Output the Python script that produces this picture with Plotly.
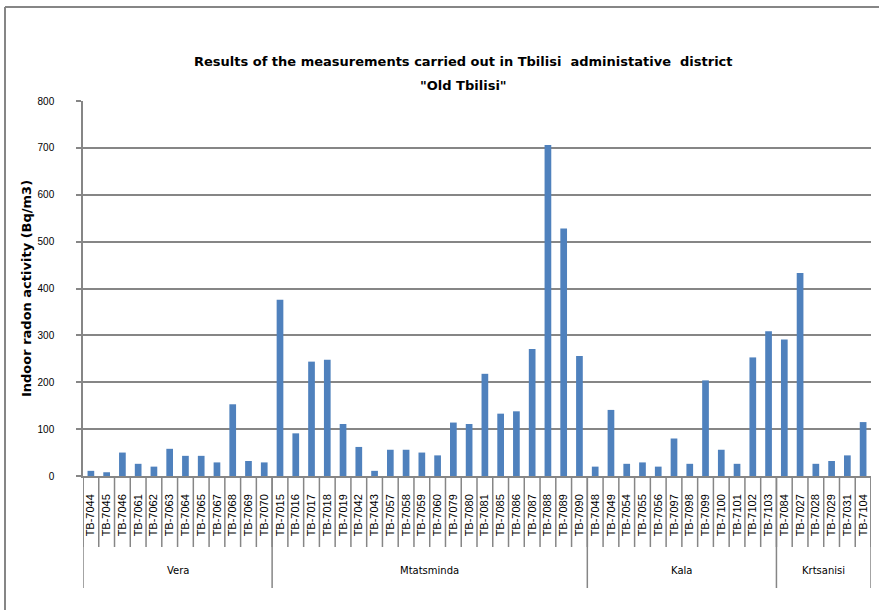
import plotly.graph_objects as go

vera_ids = ["TB-7044", "TB-7045", "TB-7046", "TB-7061", "TB-7062", "TB-7063",
            "TB-7064", "TB-7065", "TB-7067", "TB-7068", "TB-7069", "TB-7070"]
vera_vals = [11, 8, 50, 26, 20, 58, 43, 43, 29, 153, 32, 29]

mtats_ids = ["TB-7015", "TB-7016", "TB-7017", "TB-7018", "TB-7019", "TB-7042",
             "TB-7043", "TB-7057", "TB-7058", "TB-7059", "TB-7060", "TB-7079",
             "TB-7080", "TB-7081", "TB-7085", "TB-7086", "TB-7087", "TB-7088",
             "TB-7089", "TB-7090"]
mtats_vals = [376, 91, 244, 248, 111, 62, 11, 56, 56, 50, 44, 114,
              111, 218, 133, 138, 271, 706, 528, 256]

kala_ids = ["TB-7048", "TB-7049", "TB-7054", "TB-7055", "TB-7056", "TB-7097",
            "TB-7098", "TB-7099", "TB-7100", "TB-7101", "TB-7102", "TB-7103"]
kala_vals = [20, 141, 26, 29, 20, 80, 26, 204, 56, 26, 253, 309]

krts_ids = ["TB-7084", "TB-7027", "TB-7028", "TB-7029", "TB-7031", "TB-7104"]
krts_vals = [291, 433, 26, 32, 44, 115]

groups = ["Vera", "Mtatsminda", "Kala", "Krtsanisi"]
group_ids = [vera_ids, mtats_ids, kala_ids, krts_ids]
group_vals = [vera_vals, mtats_vals, kala_vals, krts_vals]

categories = [c for g in group_ids for c in g]
values = [v for g in group_vals for v in g]

y_ticks = [0, 100, 200, 300, 400, 500, 600, 700, 800]

title_line1 = "Results of the measurements carried out in Tbilisi  administative  district"
title_line2 = '"Old Tbilisi"'

GRAY = "#868686"
BLUE = "#4F81BD"
FONT = "DejaVu Sans"

fig = go.Figure()
fig.add_trace(go.Bar(
    x=list(range(len(categories))), y=values,
    marker=dict(color=BLUE, line=dict(width=0)),
    showlegend=False,
))

plot_h = 375.0
plot_w = 788.0
shapes = []
annotations = []
# inner tick separators
for i in range(len(categories) + 1):
    shapes.append(dict(type="line", xref="x", yref="paper",
                       x0=i - 0.5, x1=i - 0.5, y0=0, y1=-71 / plot_h,
                       line=dict(color=GRAY, width=1.5)))
# group separators and labels
start = 0
bounds = [0]
for name, ids in zip(groups, group_ids):
    end = start + len(ids)
    bounds.append(end)
    annotations.append(dict(xref="x", yref="paper", x=(start + end - 1) / 2,
                            y=-94 / plot_h, yanchor="middle", xanchor="center",
                            text=name, showarrow=False,
                            font=dict(size=10, color="#000000", family=FONT)))
    start = end
for b in bounds:
    shapes.append(dict(type="line", xref="x", yref="paper",
                       x0=b - 0.5, x1=b - 0.5, y0=0, y1=-112 / plot_h,
                       line=dict(color=GRAY, width=1.5)))

# title lines
annotations.append(dict(xref="paper", yref="paper", x=(463 - 83) / plot_w,
                        y=(476 - 62) / plot_h, xanchor="center", yanchor="middle",
                        text=title_line1, showarrow=False,
                        font=dict(size=13, family=FONT, color="#000000", weight="bold")))
annotations.append(dict(xref="paper", yref="paper", x=(463 - 83) / plot_w,
                        y=(476 - 85) / plot_h, xanchor="center", yanchor="middle",
                        text=title_line2, showarrow=False,
                        font=dict(size=13, family=FONT, color="#000000", weight="bold")))

# outer frame (left and top edges)
shapes.append(dict(type="line", xref="paper", yref="paper",
                   x0=-78 / plot_w, x1=-78 / plot_w, y0=1 + 94 / plot_h, y1=-140 / plot_h,
                   line=dict(color=GRAY, width=2)))
shapes.append(dict(type="line", xref="paper", yref="paper",
                   x0=-78 / plot_w, x1=1.02, y0=1 + 94 / plot_h, y1=1 + 94 / plot_h,
                   line=dict(color=GRAY, width=2)))

fig.update_layout(
    width=879, height=610,
    margin=dict(l=83, r=8, t=101, b=134),
    paper_bgcolor="white", plot_bgcolor="white",
    bargap=0.575,
    shapes=shapes,
    annotations=annotations,
    xaxis=dict(
        tickmode="array", tickvals=list(range(len(categories))), ticktext=categories,
        tickangle=-90, ticks="", showgrid=False, ticklabelstandoff=12,
        range=[-0.5, len(categories) - 0.5],
        showline=True, linecolor=GRAY, linewidth=1.5,
        tickfont=dict(size=11, family="Liberation Sans", color="#000000"),
    ),
    yaxis=dict(
        range=[0, 800], tickmode="array", tickvals=y_ticks,
        showgrid=True, gridcolor=GRAY, gridwidth=1.5,
        showline=True, linecolor=GRAY, linewidth=1.5,
        ticks="outside", ticklen=5, tickcolor=GRAY, tickwidth=1.5,
        ticklabelstandoff=20,
        tickfont=dict(size=10, family="Liberation Sans", color="#000000"),
        title=dict(text="Indoor radon activity (Bq/m3)", standoff=3,
                   font=dict(size=13, family=FONT, color="#000000",
                             weight="bold")),
        zeroline=False,
    ),
)

fig.write_html("out.html", post_script="document.body.style.margin='0';",
               config={"displayModeBar": False})
